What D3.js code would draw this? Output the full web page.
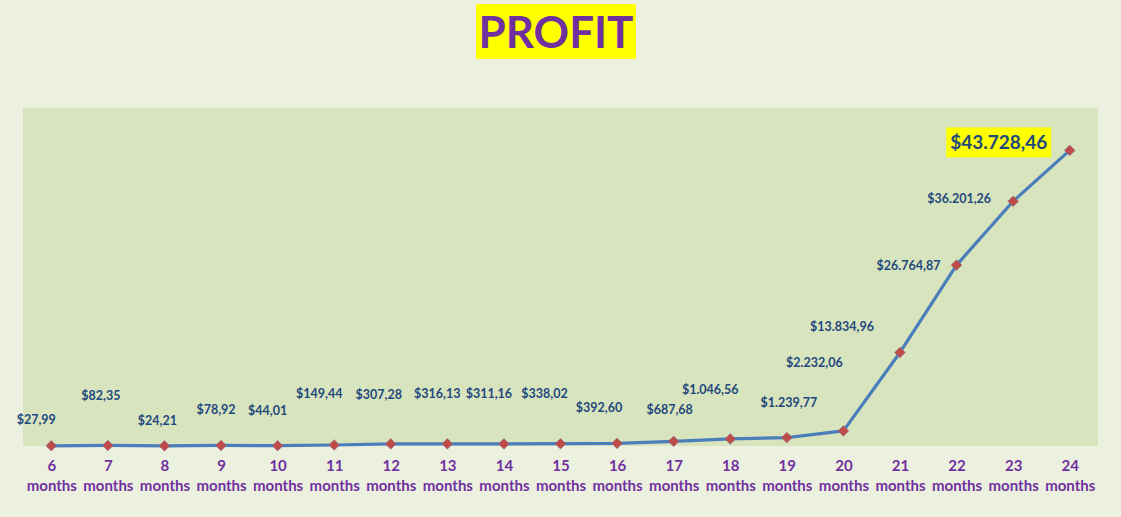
<!DOCTYPE html>
<html>
<head>
<meta charset="utf-8">
<script src="https://cdn.jsdelivr.net/npm/d3@7"></script>
<style>
  html, body { margin: 0; padding: 0; background: #ECF0DF; }
  svg { display: block; }
</style>
</head>
<body>
<svg id="chart" width="1121" height="517"></svg>
<script>
// ---- data ----
const months = [6, 7, 8, 9, 10, 11, 12, 13, 14, 15, 16, 17, 18, 19, 20, 21, 22, 23, 24];
const profit = [27.99, 82.35, 24.21, 78.92, 44.01, 149.44, 307.28, 316.13, 311.16, 338.02,
                392.60, 687.68, 1046.56, 1239.77, 2232.06, 13834.96, 26764.87, 36201.26, 43728.46];
const yDomain = [0, 50000];
const title = "PROFIT";
const unitLabel = "months";

// ---- label layout (offsets from each point, manually placed in the original) ----
const labelDx = [-15, -7, -7, -5, -10, -15, -12, -10, -15, -16, -18, -4, -20, 2, -29, -58, -48, -54, -71];
const labelDy = [-22, -45, -21, -31, -31, -47, -45, -46, -46, -46, -31, -27, -45, -31, -64, -21.5, 5, 2, -1];

// ---- layout ----
const W = 1121, H = 517;
const plot = { left: 23, top: 108, right: 1098, bottom: 446 };

const svg = d3.select("#chart");
svg.append("rect").attr("width", W).attr("height", H).attr("fill", "#ECF0DF");

const x = d3.scalePoint().domain(months).range([plot.left, plot.right]).padding(0.5);
const y = d3.scaleLinear().domain(yDomain).range([plot.bottom, plot.top]);

// plot area
svg.append("rect")
  .attr("x", plot.left).attr("y", plot.top)
  .attr("width", plot.right - plot.left).attr("height", plot.bottom - plot.top)
  .attr("fill", "#D8E4BD");

// title
const titleG = svg.append("g");
titleG.append("rect").attr("x", 476).attr("y", 4).attr("width", 160).attr("height", 55).attr("fill", "#FFFF00");
titleG.append("text")
  .attr("x", 556).attr("y", 48)
  .attr("text-anchor", "middle")
  .attr("font-family", "Lato, 'Open Sans', sans-serif")
  .attr("font-weight", 700)
  .attr("font-size", 44)
  .attr("fill", "#7030A0")
  .text(title);

// x axis labels
const xAxis = d3.axisBottom(x).tickSize(0).tickPadding(0).tickFormat(d => d);
const axG = svg.append("g").attr("transform", `translate(0,${plot.bottom})`).call(xAxis);
axG.select(".domain").remove();
axG.selectAll(".tick text").remove();
axG.selectAll(".tick").each(function(d) {
  const t = d3.select(this).append("text")
    .attr("text-anchor", "middle")
    .attr("font-family", "Lato, 'Open Sans', sans-serif")
    .attr("font-weight", 700)
    .attr("font-size", 15)
    .attr("fill", "#7030A0");
  t.append("tspan").attr("x", 0).attr("y", 24.5).text(d);
  t.append("tspan").attr("x", 0).attr("y", 45).text(unitLabel);
});

// line
const data = months.map((m, i) => ({ m, v: profit[i], i }));
const line = d3.line().x(d => x(d.m)).y(d => y(d.v));
svg.append("path")
  .datum(data)
  .attr("d", line)
  .attr("fill", "none")
  .attr("stroke", "#4A7EBB")
  .attr("stroke-width", 3.2)
  .attr("stroke-linejoin", "round");

// markers
const diamond = d3.symbol().type(d3.symbolDiamond2).size(72);
svg.append("g").selectAll("path")
  .data(data)
  .join("path")
  .attr("d", diamond)
  .attr("transform", d => `translate(${x(d.m)},${y(d.v)})`)
  .attr("fill", "#BE4B48")
  .attr("stroke", "#8C6E8E")
  .attr("stroke-width", 0.6);

// data labels
const fmt = v => {
  const s = v.toFixed(2);
  let [int, dec] = s.split(".");
  int = int.replace(/\B(?=(\d{3})+(?!\d))/g, ".");
  return "$" + int + "," + dec;
};
const lastIdx = data.length - 1;
const labG = svg.append("g");
data.forEach(d => {
  const lx = x(d.m) + labelDx[d.i];
  const ly = y(d.v) + labelDy[d.i];
  const isLast = d.i === lastIdx;
  if (isLast) {
    labG.append("rect")
      .attr("x", lx - 52.5).attr("y", ly - 22)
      .attr("width", 105).attr("height", 30)
      .attr("fill", "#FFFF00");
  }
  labG.append("text")
    .attr("x", lx).attr("y", ly)
    .attr("text-anchor", "middle")
    .attr("font-family", "Lato, 'Open Sans', sans-serif")
    .attr("font-weight", 700)
    .attr("font-size", isLast ? 19 : 12.5)
    .attr("fill", "#1F497D")
    .text(fmt(d.v));
});
</script>
</body>
</html>
